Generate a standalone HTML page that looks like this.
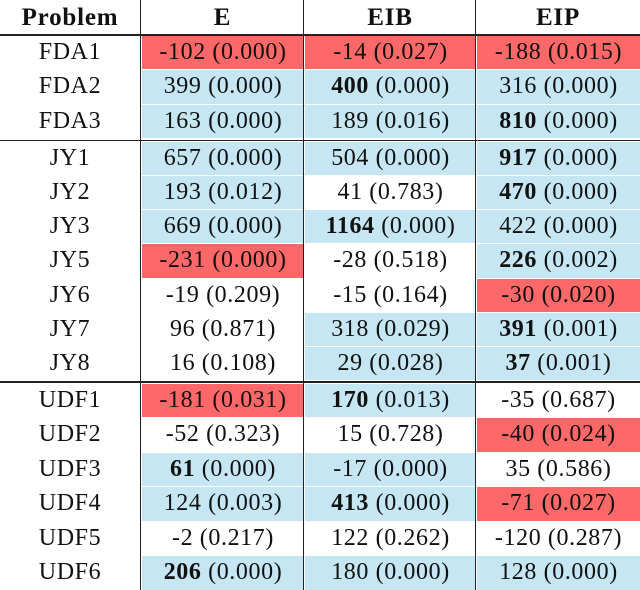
<!DOCTYPE html>
<html><head><meta charset="utf-8"><style>
body{margin:0;background:#fff;width:640px;height:590px;overflow:hidden;font-family:"Liberation Serif",serif;}
#t{position:relative;width:640px;height:590px;}
.c{position:absolute;display:flex;align-items:center;justify-content:center;font-size:24px;letter-spacing:0.6px;color:#111;box-sizing:border-box;white-space:nowrap;}
.r{background:#fe6868;}.b{background:#c6e6f3;}
.h{font-weight:bold;font-size:25px;letter-spacing:0.8px;}
.ln{position:absolute;background:#222;}
</style></head><body>
<div id="t"></div>
<script>
const problems=["FDA1","FDA2","FDA3","JY1","JY2","JY3","JY5","JY6","JY7","JY8","UDF1","UDF2","UDF3","UDF4","UDF5","UDF6"];
const groups=[3,7,6];
const cols=["E","EIB","EIP"];
const vals=[
[["-102","0.000","r",0],["-14","0.027","r",0],["-188","0.015","r",0]],
[["399","0.000","b",0],["400","0.000","b",1],["316","0.000","b",0]],
[["163","0.000","b",0],["189","0.016","b",0],["810","0.000","b",1]],
[["657","0.000","b",0],["504","0.000","b",0],["917","0.000","b",1]],
[["193","0.012","b",0],["41","0.783","",0],["470","0.000","b",1]],
[["669","0.000","b",0],["1164","0.000","b",1],["422","0.000","b",0]],
[["-231","0.000","r",0],["-28","0.518","",0],["226","0.002","b",1]],
[["-19","0.209","",0],["-15","0.164","",0],["-30","0.020","r",0]],
[["96","0.871","",0],["318","0.029","b",0],["391","0.001","b",1]],
[["16","0.108","",0],["29","0.028","b",0],["37","0.001","b",1]],
[["-181","0.031","r",0],["170","0.013","b",1],["-35","0.687","",0]],
[["-52","0.323","",0],["15","0.728","",0],["-40","0.024","r",0]],
[["61","0.000","b",1],["-17","0.000","b",0],["35","0.586","",0]],
[["124","0.003","b",0],["413","0.000","b",1],["-71","0.027","r",0]],
[["-2","0.217","",0],["122","0.262","",0],["-120","0.287","",0]],
[["206","0.000","b",1],["180","0.000","b",0],["128","0.000","b",0]]
];
const T=document.getElementById('t');
const colX=[0,141,304,476,640];
const groupTop=[35,141,383];const groupBot=[139,381,590];
function div(cls,x,y,w,h,html){const d=document.createElement('div');d.className=cls;d.style.left=x+'px';d.style.top=y+'px';d.style.width=w+'px';d.style.height=h+'px';if(html!==undefined)d.innerHTML=html;T.appendChild(d);return d;}
let hd=div('c h',0,0,140,35,'Problem');


cols.forEach((c,i)=>{const d=div('c h',colX[i+1],0,colX[i+2]-colX[i+1],35,c);

});
let idx=0;
groups.forEach((n,g)=>{const rh=(groupBot[g]-groupTop[g])/n;
for(let k=0;k<n;k++,idx++){const y=groupTop[g]+k*rh;
const p=div('c',0,y,140,rh,problems[idx]);


vals[idx].forEach((v,j)=>{const x=colX[j+1]+1;const w=colX[j+2]-colX[j+1]-1;
const d=div('c '+v[2],x,y+0.5,w,rh-1,(v[3]?'<b>'+v[0]+'</b>':v[0])+'&nbsp;('+v[1]+')');

});}});
[[0,34,640,1.5],[0,139.5,640,1.5],[0,381,640,1.5]].forEach(a=>{const l=div('ln',a[0],a[1],a[2],a[3]);

});
[140,303,475].forEach(x=>{const l=div('ln',x,0,1,590);

});
</script>
</body></html>
